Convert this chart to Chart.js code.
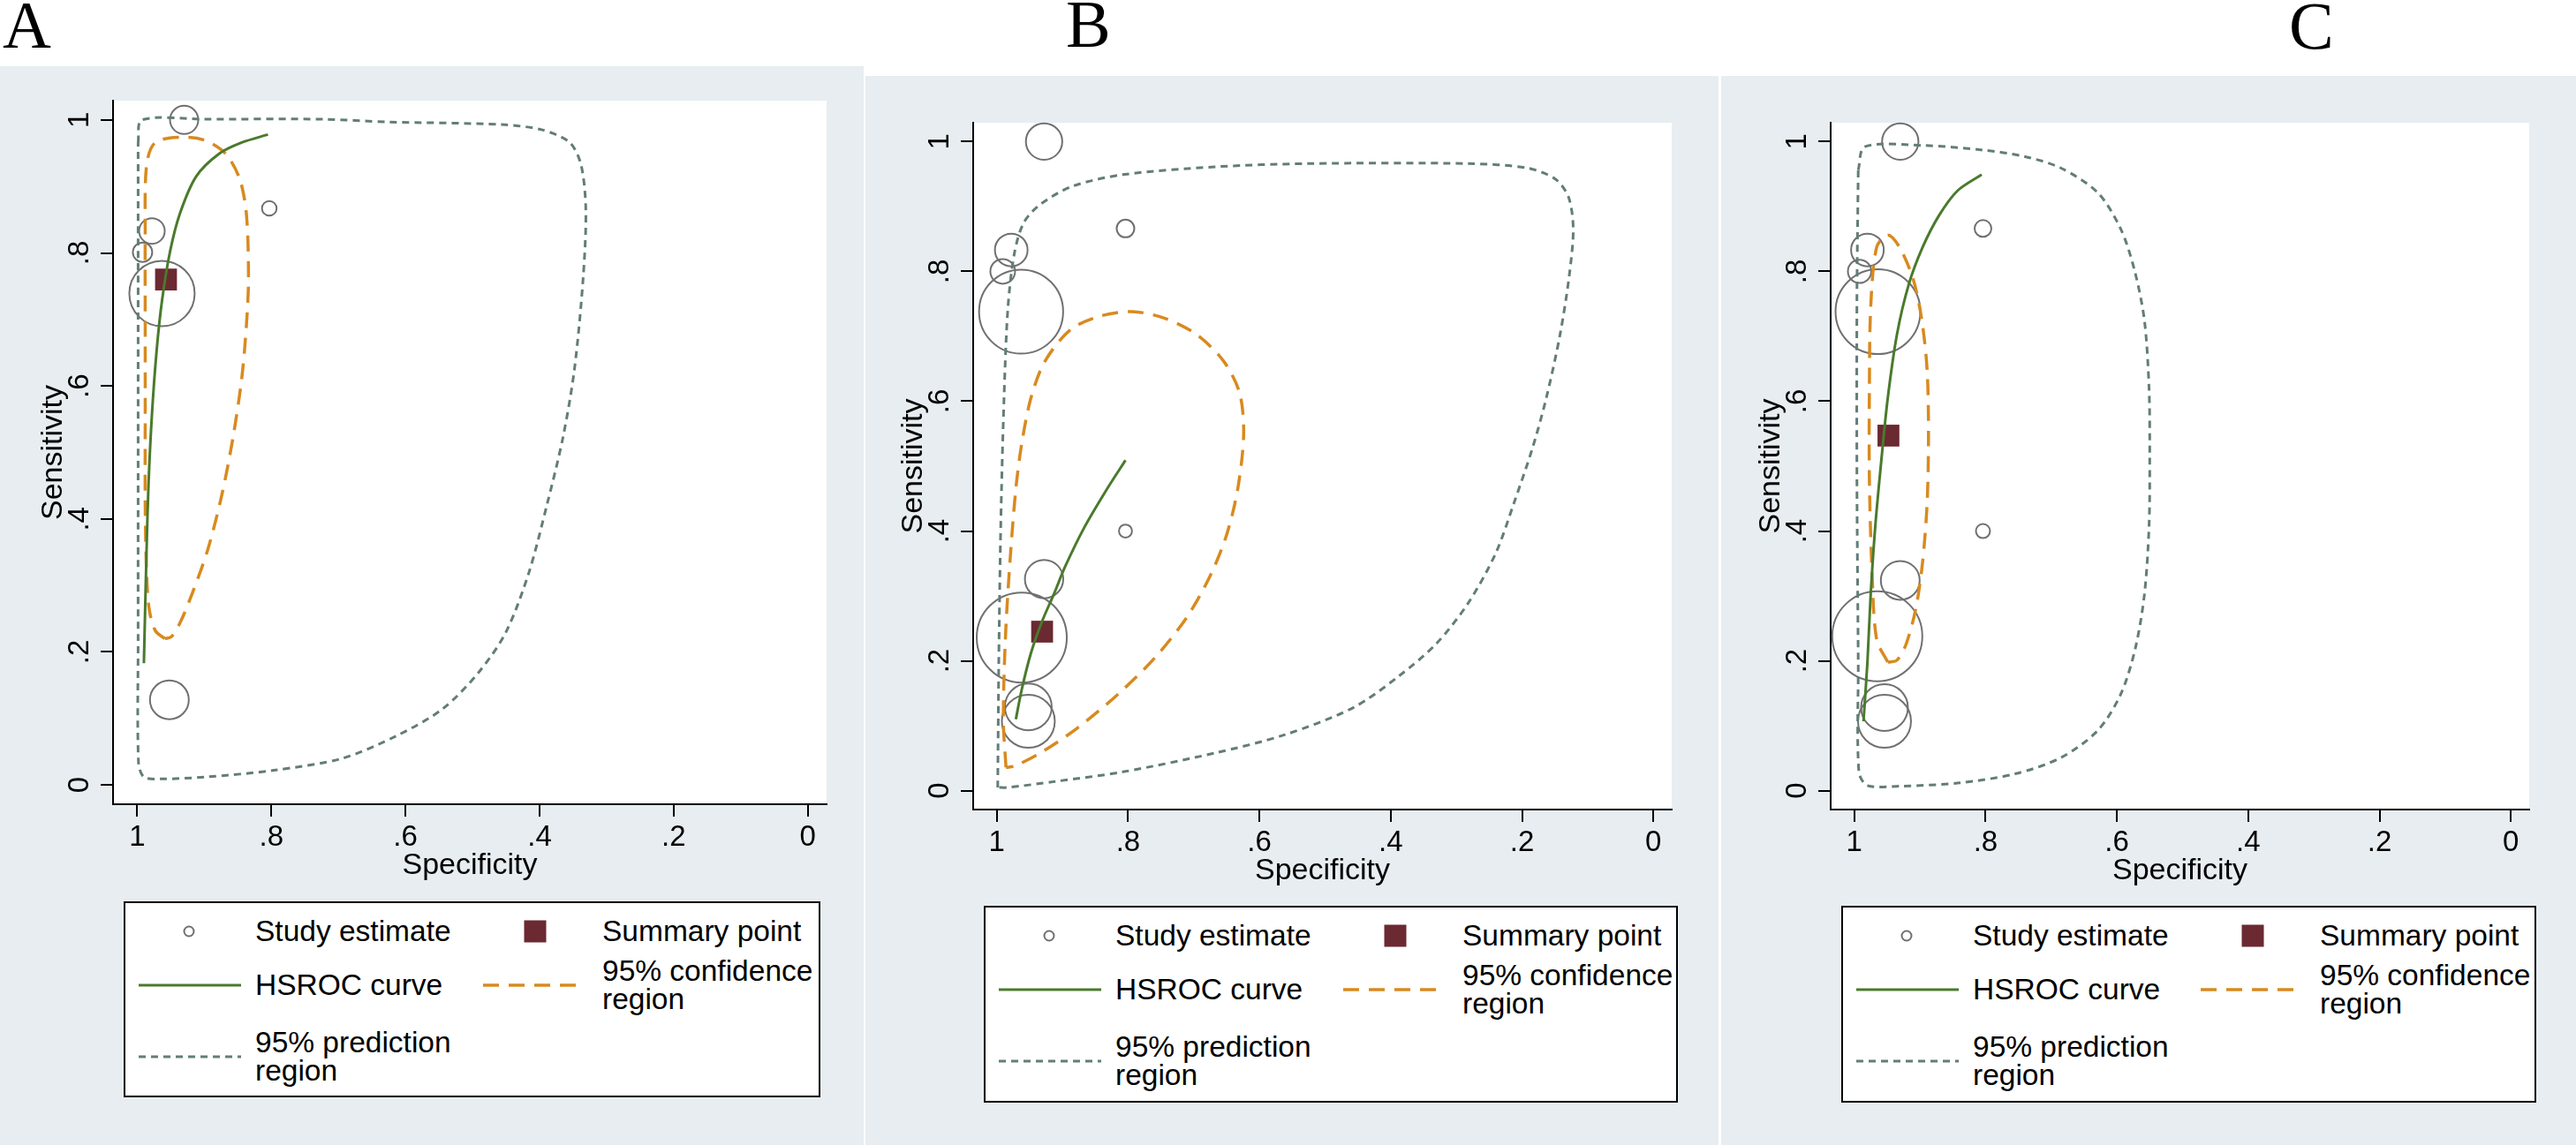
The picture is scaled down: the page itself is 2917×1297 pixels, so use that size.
<!DOCTYPE html>
<html>
<head>
<meta charset="utf-8">
<script src="https://cdn.jsdelivr.net/npm/chart.js@4.4.0/dist/chart.umd.min.js"></script>
<style>
  body { margin: 0; width: 2917px; height: 1297px; background: #fff; position: relative; overflow: hidden;
         font-family: "Liberation Sans", Arial, Helvetica, sans-serif; }
  .panel { position: absolute; background: #e7edf0; }
  .panel canvas { position: absolute; left: 0; top: 0; }
  .letter { position: absolute; font-family: "Liberation Serif", "Times New Roman", serif; font-size: 76px; line-height: 1; color: #000; }
  .legend { position: absolute; background: #fff; border: 2px solid #000; box-sizing: border-box; }
  .legend svg { position: absolute; overflow: visible; }
  .legend .txt { position: absolute; font-size: 33.5px; line-height: 32px; white-space: nowrap; color: #000; transform: translateY(-50%); }
</style>
</head>
<body>
<script>
// axis ticks
const xTickValues = [0, 0.2, 0.4, 0.6, 0.8, 1];
const xTickLabels = ['0', '.2', '.4', '.6', '.8', '1'];
const yTickValues = [0, 0.2, 0.4, 0.6, 0.8, 1];
const yTickLabels = ['0', '.2', '.4', '.6', '.8', '1'];

// panel A
const studySpecA = [0.930, 0.803, 0.978, 0.992, 0.963, 0.952];
const studySensA = [1.000, 0.867, 0.833, 0.801, 0.739, 0.128];
const studyWeightA = [1.6, 0.83, 1.45, 1.1, 3.7, 2.2];
const summarySpecA = [0.957];
const summarySensA = [0.760];
const hsrocSpecA = [0.990, 0.986, 0.983, 0.978, 0.971, 0.963, 0.951, 0.936, 0.912, 0.878, 0.844, 0.805];
const hsrocSensA = [0.183, 0.353, 0.455, 0.557, 0.653, 0.728, 0.802, 0.860, 0.915, 0.949, 0.966, 0.978];
const confSpecA = [0.959, 0.973, 0.982, 0.986, 0.988, 0.988, 0.988, 0.988, 0.986, 0.973, 0.932, 0.898, 0.868, 0.847,
                   0.837, 0.834, 0.837, 0.844, 0.857, 0.874, 0.895, 0.919, 0.936, 0.949, 0.959];
const confSensA = [0.220, 0.232, 0.264, 0.319, 0.421, 0.557, 0.693, 0.830, 0.932, 0.966, 0.974, 0.969, 0.949, 0.911,
                   0.857, 0.762, 0.693, 0.612, 0.523, 0.435, 0.353, 0.285, 0.244, 0.223, 0.220];
const predSpecA = [0.9986, 0.993, 0.898, 0.722, 0.627, 0.457, 0.396, 0.355, 0.338, 0.331, 0.335, 0.348, 0.365, 0.389,
                   0.416, 0.450, 0.491, 0.545, 0.613, 0.694, 0.796, 0.898, 0.966, 0.990, 0.998, 0.9986, 0.9986, 0.9986, 0.9986];
const predSensA = [0.966, 1.000, 1.001, 1.001, 0.997, 0.993, 0.985, 0.966, 0.932, 0.864, 0.762, 0.625, 0.523, 0.421,
                   0.319, 0.230, 0.169, 0.114, 0.074, 0.040, 0.022, 0.012, 0.009, 0.012, 0.033, 0.217, 0.489, 0.762, 0.966];

// panel B
const studySpecB = [0.928, 0.804, 0.978, 0.991, 0.963, 0.804, 0.928, 0.962, 0.952, 0.952];
const studySensB = [1.000, 0.866, 0.833, 0.800, 0.738, 0.400, 0.326, 0.236, 0.129, 0.107];
const studyWeightB = [2.06, 1.0, 1.85, 1.4, 4.76, 0.74, 2.17, 5.1, 2.65, 3.0];
const summarySpecB = [0.931];
const summarySensB = [0.245];
const hsrocSpecB = [0.971, 0.962, 0.948, 0.931, 0.913, 0.896, 0.867, 0.832, 0.804];
const hsrocSensB = [0.110, 0.156, 0.212, 0.261, 0.303, 0.345, 0.405, 0.465, 0.509];
const confSpecB = [0.986, 0.990, 0.987, 0.980, 0.971, 0.962, 0.948, 0.927, 0.888, 0.843, 0.794, 0.745, 0.696, 0.654,
                   0.630, 0.624, 0.633, 0.650, 0.675, 0.710, 0.759, 0.815, 0.878, 0.934, 0.973, 0.986];
const confSensB = [0.036, 0.107, 0.233, 0.352, 0.465, 0.535, 0.605, 0.661, 0.710, 0.731, 0.738, 0.728, 0.703, 0.661,
                   0.612, 0.549, 0.465, 0.394, 0.331, 0.268, 0.205, 0.149, 0.096, 0.058, 0.038, 0.036];
const predSpecB = [0.9986, 0.997, 0.994, 0.989, 0.983, 0.973, 0.959, 0.934, 0.885, 0.808, 0.668, 0.527, 0.282, 0.191,
                   0.149, 0.129, 0.122, 0.128, 0.142, 0.163, 0.184, 0.212, 0.240, 0.282, 0.331, 0.387, 0.457, 0.562,
                   0.668, 0.808, 0.913, 0.983, 0.9986];
const predSensB = [0.005, 0.198, 0.408, 0.605, 0.745, 0.829, 0.875, 0.903, 0.931, 0.949, 0.961, 0.966, 0.966, 0.959,
                   0.942, 0.914, 0.865, 0.794, 0.703, 0.605, 0.528, 0.444, 0.366, 0.289, 0.226, 0.177, 0.128, 0.086,
                   0.058, 0.029, 0.014, 0.005, 0.005];

// panel C
const studySpecC = [0.930, 0.804, 0.980, 0.992, 0.964, 0.804, 0.930, 0.965, 0.954, 0.954];
const studySensC = [1.000, 0.866, 0.833, 0.800, 0.738, 0.400, 0.324, 0.238, 0.128, 0.107];
const studyWeightC = [2.06, 0.95, 1.85, 1.32, 4.8, 0.8, 2.2, 5.1, 2.65, 3.0];
const summarySpecC = [0.948];
const summarySensC = [0.547];
const hsrocSpecC = [0.986, 0.980, 0.975, 0.968, 0.959, 0.949, 0.935, 0.917, 0.896, 0.871, 0.843, 0.806];
const hsrocSensC = [0.107, 0.198, 0.303, 0.408, 0.507, 0.605, 0.703, 0.780, 0.837, 0.886, 0.924, 0.949];
const confSpecC = [0.949, 0.966, 0.973, 0.977, 0.977, 0.975, 0.966, 0.949, 0.931, 0.910, 0.897, 0.889, 0.887, 0.889,
                   0.896, 0.906, 0.921, 0.935, 0.949];
const confSensC = [0.198, 0.233, 0.338, 0.479, 0.619, 0.745, 0.837, 0.856, 0.837, 0.787, 0.724, 0.647, 0.549, 0.444,
                   0.352, 0.282, 0.226, 0.201, 0.198];
const predSpecC = [0.994, 0.984, 0.896, 0.805, 0.741, 0.685, 0.629, 0.594, 0.573, 0.558, 0.551, 0.550, 0.551, 0.558,
                   0.572, 0.594, 0.629, 0.685, 0.755, 0.840, 0.931, 0.980, 0.993, 0.994, 0.996, 0.996, 0.994];
const predSensC = [0.956, 0.992, 0.994, 0.987, 0.977, 0.959, 0.921, 0.865, 0.801, 0.724, 0.619, 0.514, 0.408, 0.303,
                   0.219, 0.149, 0.093, 0.051, 0.026, 0.012, 0.007, 0.008, 0.029, 0.198, 0.479, 0.759, 0.956];

const FONT = '"Liberation Sans", Arial, Helvetica, sans-serif';
const colors = { study: '#707070', summary: '#6b2931', hsroc: '#4a7a2c', conf: '#d88a1f', pred: '#627d77' };
const dashes = { conf: [18, 11], pred: [8, 6] };

function pts(xs, ys) {
  return xs.map((x, i) => ({ x: x, y: ys[i] }));
}

// white plot region, rotated y labels and y title like Stata
const stataPlot = {
  id: 'stataPlot',
  beforeDraw(chart) {
    const a = chart.chartArea;
    const ctx = chart.ctx;
    ctx.save();
    ctx.fillStyle = '#fff';
    ctx.fillRect(a.left, a.top, a.right - a.left, a.bottom - a.top);
    ctx.restore();
  },
  afterDraw(chart) {
    const ctx = chart.ctx;
    const y = chart.scales.y;
    const a = chart.chartArea;
    ctx.save();
    ctx.fillStyle = '#000';
    ctx.font = '33px ' + FONT;
    ctx.textAlign = 'center';
    ctx.textBaseline = 'middle';
    y.ticks.forEach((t, i) => {
      ctx.save();
      ctx.translate(a.left - 37, y.getPixelForValue(t.value));
      ctx.rotate(-Math.PI / 2);
      ctx.fillText(yTickLabels[i], 0, 0);
      ctx.restore();
    });
    ctx.font = '34px ' + FONT;
    ctx.translate(a.left - 67, (a.top + a.bottom) / 2);
    ctx.rotate(-Math.PI / 2);
    ctx.fillText('Sensitivity', 0, 0);
    ctx.restore();
  }
};

function makePanel(p) {
  const w = p.box[2] - p.box[0], h = p.box[3] - p.box[1];
  const div = document.createElement('div');
  div.className = 'panel';
  Object.assign(div.style, { left: p.box[0] + 'px', top: p.box[1] + 'px', width: w + 'px', height: h + 'px' });
  document.body.appendChild(div);
  const canvas = document.createElement('canvas');
  canvas.width = w; canvas.height = h;
  canvas.style.width = w + 'px'; canvas.style.height = h + 'px';
  div.appendChild(canvas);

  const xAxisH = 90;
  new Chart(canvas, {
    type: 'scatter',
    data: {
      datasets: [
        {
          label: 'HSROC curve', order: 0,
          data: pts(p.hsroc[0], p.hsroc[1]),
          showLine: true, borderColor: colors.hsroc, borderWidth: 3, pointRadius: 0, tension: 0.3
        },
        {
          label: 'Summary point', order: 1,
          data: pts(p.summary[0], p.summary[1]),
          pointStyle: 'rect', pointRadius: 17.5, backgroundColor: colors.summary, borderWidth: 0
        },
        {
          label: '95% confidence region', order: 2,
          data: pts(p.conf[0], p.conf[1]),
          showLine: true, borderColor: colors.conf, borderWidth: 3.5, borderDash: dashes.conf, pointRadius: 0, tension: 0.3
        },
        {
          label: '95% prediction region', order: 3,
          data: pts(p.pred[0], p.pred[1]),
          showLine: true, borderColor: colors.pred, borderWidth: 3, borderDash: dashes.pred, pointRadius: 0, tension: 0.3
        },
        {
          label: 'Study estimate', order: 4,
          data: pts(p.study[0], p.study[1]),
          pointStyle: 'circle', pointRadius: p.study[2].map(v => v * 10),
          backgroundColor: 'rgba(0,0,0,0)', borderColor: colors.study, borderWidth: 2, clip: false
        }
      ]
    },
    options: {
      responsive: false,
      animation: false,
      devicePixelRatio: 1,
      events: [],
      layout: {
        padding: {
          left: 0,
          top: p.plot[1] - p.box[1],
          right: p.box[2] - p.plot[2],
          bottom: p.box[3] - p.plot[3] - xAxisH
        }
      },
      plugins: { legend: { display: false }, tooltip: { enabled: false } },
      scales: {
        x: {
          type: 'linear', reverse: true, min: -0.028, max: 1.036,
          afterBuildTicks: s => { s.ticks = xTickValues.map(v => ({ value: v })); },
          afterFit: s => { s.height = xAxisH; },
          border: { display: true, color: '#000', width: 2 },
          grid: { drawOnChartArea: false, drawTicks: true, tickLength: 14, color: '#000', lineWidth: 2 },
          ticks: {
            color: '#000', font: { family: FONT, size: 33 }, padding: 4, maxRotation: 0, autoSkip: false,
            callback: (v, i) => xTickLabels[i]
          },
          title: { display: true, text: 'Specificity', color: '#000', font: { family: FONT, size: 34 }, padding: 0 }
        },
        y: {
          type: 'linear', min: -0.029, max: 1.029,
          afterBuildTicks: s => { s.ticks = yTickValues.map(v => ({ value: v })); },
          afterFit: s => { s.width = p.plot[0] - p.box[0]; },
          border: { display: true, color: '#000', width: 2 },
          grid: { drawOnChartArea: false, drawTicks: true, tickLength: 14, color: '#000', lineWidth: 2 },
          ticks: { display: false }
        }
      }
    },
    plugins: [stataPlot]
  });

  // panel letter
  const letter = document.createElement('div');
  letter.className = 'letter';
  letter.textContent = p.letter;
  Object.assign(letter.style, { left: p.letterPos[0] + 'px', top: p.letterPos[1] + 'px' });
  document.body.appendChild(letter);

  // legend box
  const lg = document.createElement('div');
  lg.className = 'legend';
  Object.assign(lg.style, {
    left: p.legend[0] + 'px', top: p.legend[1] + 'px',
    width: (p.legend[2] - p.legend[0]) + 'px', height: (p.legend[3] - p.legend[1]) + 'px'
  });
  document.body.appendChild(lg);
  const svgNS = 'http://www.w3.org/2000/svg';
  function sym(x, y, draw) {
    const s = document.createElementNS(svgNS, 'svg');
    s.setAttribute('width', 1); s.setAttribute('height', 1);
    s.style.left = x + 'px'; s.style.top = y + 'px';
    s.innerHTML = draw;
    lg.appendChild(s);
  }
  function txt(x, y, html) {
    const t = document.createElement('div');
    t.className = 'txt';
    t.style.left = x + 'px'; t.style.top = y + 'px';
    t.innerHTML = html;
    lg.appendChild(t);
  }
  const r1 = 32, r2 = 93, r3 = 174;
  sym(72, r1, `<circle cx="0" cy="0" r="5.5" fill="none" stroke="${colors.study}" stroke-width="2"/>`);
  txt(147, r1, 'Study estimate');
  sym(464, r1, `<rect x="-12.5" y="-12.5" width="25" height="25" fill="${colors.summary}"/>`);
  txt(540, r1, 'Summary point');
  sym(15, r2, `<line x1="0" y1="0" x2="116" y2="0" stroke="${colors.hsroc}" stroke-width="3"/>`);
  txt(147, r2, 'HSROC curve');
  sym(405, r2, `<line x1="0" y1="0" x2="110" y2="0" stroke="${colors.conf}" stroke-width="3.5" stroke-dasharray="${dashes.conf.join(' ')}"/>`);
  txt(540, r2, '95% confidence<br>region');
  sym(15, r3, `<line x1="0" y1="0" x2="116" y2="0" stroke="${colors.pred}" stroke-width="3" stroke-dasharray="${dashes.pred.join(' ')}"/>`);
  txt(147, r3, '95% prediction<br>region');
}

makePanel({
  letter: 'A', letterPos: [3, -10],
  box: [0, 75, 978, 1297], plot: [128, 108, 936, 911], legend: [140, 1021, 929, 1243],
  study: [studySpecA, studySensA, studyWeightA], summary: [summarySpecA, summarySensA],
  hsroc: [hsrocSpecA, hsrocSensA], conf: [confSpecA, confSensA], pred: [predSpecA, predSensA]
});
makePanel({
  letter: 'B', letterPos: [1207, -11],
  box: [980, 86, 1946, 1297], plot: [1102, 119, 1905, 917], legend: [1114, 1026, 1900, 1249],
  study: [studySpecB, studySensB, studyWeightB], summary: [summarySpecB, summarySensB],
  hsroc: [hsrocSpecB, hsrocSensB], conf: [confSpecB, confSensB], pred: [predSpecB, predSensB]
});
makePanel({
  letter: 'C', letterPos: [2592, -9],
  box: [1949, 86, 2917, 1297], plot: [2073, 119, 2877, 917], legend: [2085, 1026, 2872, 1249],
  study: [studySpecC, studySensC, studyWeightC], summary: [summarySpecC, summarySensC],
  hsroc: [hsrocSpecC, hsrocSensC], conf: [confSpecC, confSensC], pred: [predSpecC, predSensC]
});
</script>
</body>
</html>
